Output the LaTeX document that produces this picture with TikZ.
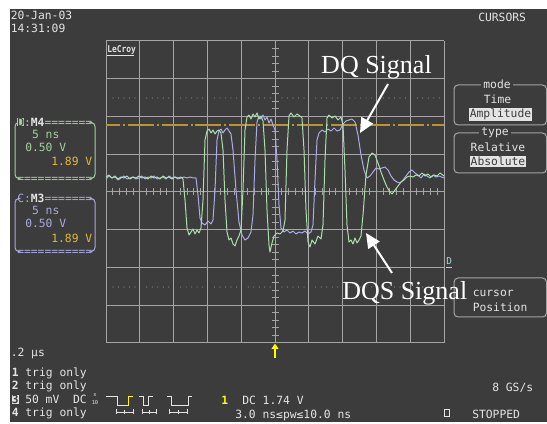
\documentclass[tikz,border=0pt]{standalone}
\usepackage{fontspec}
\usepackage{graphicx}
\usetikzlibrary{arrows.meta}
\newfontfamily\scopefont{DejaVu Sans Mono}
\newfontfamily\notefont{Liberation Serif}
\definecolor{scopebg}{RGB}{60,60,60}
\definecolor{gridgray}{RGB}{165,165,165}
\definecolor{dotgray}{RGB}{140,140,140}
\definecolor{dqsgreen}{RGB}{172,222,172}
\definecolor{dqpurple}{RGB}{172,172,228}
\definecolor{boxgreen}{RGB}{160,210,160}
\definecolor{boxpurple}{RGB}{170,170,220}
\definecolor{cursorgold}{RGB}{182,150,52}
\definecolor{valgold}{RGB}{225,185,60}
\definecolor{scopetext}{RGB}{228,228,228}
\definecolor{markcyan}{RGB}{160,220,220}
\definecolor{trigyellow}{RGB}{255,250,0}
\tikzset{
  scopetxt/.style={inner sep=0pt, font=\scopefont\fontsize{8.5pt}{10pt}\selectfont, text=scopetext},
  gridline/.style={draw=gridgray, line width=0.75pt},
  trace/.style={line width=0.75pt, line join=round},
  callout/.style={draw=white, line width=1.5pt, -{Triangle[length=11pt,width=10pt]}},
  panelbox/.style={draw=gridgray, rounded corners=3pt, line width=0.75pt},
  signaltxt/.style={inner sep=0pt, text=white, font=\notefont\fontsize{19.5pt}{22pt}\selectfont},
}
\begin{document}
\begin{tikzpicture}[x=0.75pt,y=0.75pt,yscale=-1,xscale=1]
\useasboundingbox (0,0) rectangle (547,424);
%Shape: Rectangle
\fill[white] (0,0) rectangle (547,424);
\fill[scopebg] (10,9) rectangle (547,422);

%Grid
\foreach \i in {0,...,10} \draw[gridline] ({106+33.8*\i},41) -- ({106+33.8*\i},343);
\foreach \j in {0,...,8} \draw[gridline] (106,{41+37.75*\j}) -- (444,{41+37.75*\j});
\foreach \k in {1,...,49} \draw[gridline] ({106+6.76*\k},188.5) -- ({106+6.76*\k},195.5);
\foreach \k in {1,...,39} \draw[gridline] (271.5,{41+7.55*\k}) -- (278.5,{41+7.55*\k});
\foreach \i in {0,...,9} \foreach \d in {7,12.5,18,23.5,29} {
  \fill[dotgray] ({106+33.8*\i+\d},98) circle (0.6);
  \fill[dotgray] ({106+33.8*\i+\d},287) circle (0.6);
}
%Straight Lines: cursor
\draw[cursorgold, line width=1.1pt, dash pattern=on 19.5pt off 2.25pt on 1.5pt off 2.1pt, dash phase=9pt] (106,125) -- (444,125);

%Trace: DQ
\draw[trace, dqpurple] plot coordinates {(106,179) (109,176) (112,178) (115,177) (118,180) (121,178) (124,176) (127,179) (130,178) (133,177) (136,179) (139,178) (142,176) (145,179) (148,177) (151,178) (154,176) (157,179) (160,178) (163,177) (166,179) (169,176) (172,178) (175,177) (178,179) (181,178) (184,177) (187,178) (190,177) (193,178) (196,178) (198,195) (200,218) (202,223) (205,225) (208,221) (211,224) (213,220) (215,190) (217,140) (219,131) (221,129) (223,133) (225,130) (227,128) (229,131) (231,134) (233,150) (236,190) (239,222) (242,235) (245,240) (248,238) (251,232) (253,215) (255,160) (257,122) (259,116) (261,119) (263,115) (265,120) (267,117) (269,123) (271,119) (273,125) (275,130) (277,160) (279,205) (281,228) (284,232) (287,230) (290,233) (293,231) (296,234) (299,232) (302,233) (305,231) (308,234) (311,232) (313,225) (315,180) (317,140) (319,133) (322,130) (325,132) (328,129) (331,131) (334,128) (337,131) (340,130) (343,124) (346,121) (349,120) (352,119) (355,122) (358,135) (361,155) (364,170) (367,178) (370,176) (373,172) (376,168) (379,169) (382,168) (385,167) (388,170) (391,176) (394,180) (397,182) (400,183) (403,180) (406,176) (409,172) (412,170) (415,173) (418,175) (421,178) (424,174) (427,176) (430,178) (433,175) (436,177) (439,176) (444,178)};
%Trace: DQS
\draw[trace, dqsgreen] plot coordinates {(106,177) (109,175) (112,178) (115,176) (118,179) (121,177) (124,178) (127,176) (130,179) (133,177) (136,178) (139,176) (142,178) (145,177) (148,179) (151,176) (154,178) (157,177) (160,179) (163,176) (166,178) (169,177) (172,179) (175,177) (178,178) (181,177) (183,179) (185,200) (187,228) (189,235) (191,232) (193,229) (195,234) (197,230) (199,233) (201,228) (203,200) (205,140) (207,131) (209,129) (211,133) (213,130) (215,134) (217,131) (219,130) (221,133) (223,150) (225,200) (227,232) (229,240) (231,238) (233,244) (235,246) (237,240) (239,236) (241,230) (243,190) (245,130) (247,117) (249,115) (251,119) (253,114) (255,117) (257,113) (259,119) (261,116) (263,121) (265,150) (267,210) (269,245) (270,252) (272,243) (274,236) (277,233) (280,234) (283,231) (285,220) (287,150) (289,116) (291,113) (294,117) (297,114) (300,116) (302,118) (304,150) (306,210) (308,242) (310,247) (312,240) (315,244) (318,236) (321,239) (323,225) (325,160) (327,118) (329,115) (332,118) (335,116) (338,120) (341,117) (343,125) (345,170) (347,225) (349,242) (351,240) (353,244) (355,238) (357,243) (359,240) (361,236) (363,215) (366,175) (369,157) (372,153) (375,155) (378,163) (381,172) (384,180) (387,187) (390,192) (392,194) (395,190) (398,186) (401,182) (404,180) (407,177) (410,176) (413,177) (416,175) (419,176) (422,173) (425,176) (428,174) (431,177) (434,175) (437,176) (440,173) (444,176)};

% Text Node
\node[scopetxt, anchor=base west] (date) at (10.5,20) {20-Jan-03};
\node[scopetxt, anchor=base west] (clock) at (10.5,33) {14:31:09};
\node[scopetxt, anchor=base west, font=\scopefont\bfseries\fontsize{7pt}{8pt}\selectfont] (logo) at (107,52.5) {\scalebox{0.85}[1]{LeCroy}};
\draw[scopetext, line width=0.75pt] (107,55.5) -- (134,55.5);

%M4 box
\draw[boxgreen, rounded corners=3pt, line width=0.75pt] (18,122.5) -- (15,122.5) -- (15,178.5) -- (18,178.5);
\draw[boxgreen, rounded corners=3pt, line width=0.75pt] (92,122.5) -- (95,122.5) -- (95,178.5) -- (92,178.5);
\node[scopetxt, anchor=base west, fill=boxgreen, text=scopebg] (mfourtag) at (17,126.5) {D};
\node[scopetxt, anchor=base west, text=boxgreen] (mfourhead) at (23.8,126.5) {:\textcolor{scopetext}{\bfseries M4}=======};
\node[scopetxt, anchor=base west, text=boxgreen] (mfourtime) at (31.8,138.5) {5 ns};
\node[scopetxt, anchor=base west, text=boxgreen] (mfourvolt) at (25,152) {0.50 V};
\node[scopetxt, anchor=base east, text=valgold] (mfourpos) at (92.5,166) {1.89 V};
\node[scopetxt, anchor=base west, text=boxgreen] (mfourfoot) at (17,182.5) {===========};

%M3 box
\draw[boxpurple, rounded corners=3pt, line width=0.75pt] (18,198.5) -- (15,198.5) -- (15,251.5) -- (18,251.5);
\draw[boxpurple, rounded corners=3pt, line width=0.75pt] (92,198.5) -- (95,198.5) -- (95,251.5) -- (92,251.5);
\node[scopetxt, anchor=base west, text=boxpurple] (mthreehead) at (17,202.5) {C:\textcolor{scopetext}{\bfseries M3}=======};
\node[scopetxt, anchor=base west, text=boxpurple] (mthreetime) at (31.8,215) {5 ns};
\node[scopetxt, anchor=base west, text=boxpurple] (mthreevolt) at (25,228) {0.50 V};
\node[scopetxt, anchor=base east, text=valgold] (mthreepos) at (92.5,243) {1.89 V};
\node[scopetxt, anchor=base west, text=boxpurple] (mthreefoot) at (17,255.5) {===========};

%Right panel
\node[scopetxt, anchor=base west] (cursors) at (478,22) {CURSORS};
\draw[panelbox] (454,85) rectangle (546.5,125);
\node[scopetxt, anchor=base, fill=scopebg, inner xsep=1.5pt] (modelabel) at (497,88.5) {mode};
\node[scopetxt, anchor=base] (modetime) at (497.5,104) {Time};
\node[scopetxt, anchor=base, fill=scopetext, text=scopebg, inner sep=0.8pt] (modeamp) at (500.5,118) {Amplitude};
\draw[panelbox] (454,133) rectangle (546.5,173);
\node[scopetxt, anchor=base, fill=scopebg, inner xsep=1.5pt] (typelabel) at (495,135.5) {type};
\node[scopetxt, anchor=base] (typerel) at (498,152) {Relative};
\node[scopetxt, anchor=base, fill=scopetext, text=scopebg, inner sep=0.8pt] (typeabs) at (498,166) {Absolute};
\draw[panelbox] (454,278) rectangle (546.5,317);
\node[scopetxt, anchor=base west] (curs) at (472.5,297) {cursor};
\node[scopetxt, anchor=base west] (curpos) at (472.5,312) {Position};

%Level marker
\node[scopetxt, anchor=base west, text=markcyan, font=\scopefont\fontsize{7pt}{8pt}\selectfont] (levelmark) at (446,265) {D};
\draw[markcyan, line width=0.75pt] (446,268) -- (452,268);

%Trigger arrow
\coordinate (trigfoot) at (275,358);
\coordinate (trighead) at (275,343.5);
\draw[trigyellow, line width=1.5pt, -{Triangle[length=4pt,width=5pt]}] (trigfoot) -- (trighead);

%Bottom status
\node[scopetxt, anchor=base west] (timebase) at (10.5,357) {.2 μs};
\node[scopetxt, anchor=base west] (chone) at (11.5,376.5) {{\bfseries 1} trig only};
\node[scopetxt, anchor=base west] (chtwo) at (11.5,389.5) {{\bfseries 2} trig only};
\node[scopetxt, anchor=base west, fill=scopetext, text=scopebg, font=\scopefont\bfseries\fontsize{8.5pt}{10pt}\selectfont] (chthreetag) at (11.5,403.5) {3};
\node[scopetxt, anchor=base west] (chthree) at (25,403.5) {50 mV~~DC};
\node[scopetxt, anchor=base west, font=\scopefont\fontsize{4pt}{3.5pt}\selectfont] (coupling) at (91.5,404) {\shortstack{x\\10}};
\node[scopetxt, anchor=base west] (chfour) at (11.5,416.5) {{\bfseries 4} trig only};

%Pulse symbols
\draw[scopetext, line width=0.75pt] (106,397) -- (117,397) -- (117,406) -- (128,406);
\draw[trigyellow, line width=0.75pt] (128,406) -- (128,397) -- (133,397);
\draw[scopetext, line width=0.75pt] (139,397) -- (143,397) -- (143,406) -- (148,406) -- (148,397) -- (153,397);
\draw[scopetext, line width=0.75pt] (167,397) -- (171,397) -- (171,406) -- (188,406) -- (188,397) -- (192,397);
\foreach \a/\b in {116/133, 142/156, 169/187} {
  \draw[scopetext, line width=0.6pt] (\a,412) -- (\b,412);
  \draw[scopetext, line width=0.6pt] (\a,409.5) -- (\a,414.5);
  \draw[scopetext, line width=0.6pt] (\b,409.5) -- (\b,414.5);
  \draw[scopetext, line width=0.6pt] ({(\a+\b)/2},410) -- ({(\a+\b)/2},414);
}
\node[scopetxt, anchor=base west, text=trigyellow, font=\scopefont\bfseries\fontsize{8.5pt}{10pt}\selectfont] (trigsrc) at (221,404) {1};
\node[scopetxt, anchor=base west] (triglevel) at (242,404) {DC 1.74 V};
\node[scopetxt, anchor=base west] (trigwidth) at (235,418) {3.0 ns≤pw≤10.0 ns};
\node[scopetxt, anchor=base west] (rate) at (492,392) {8 GS/s};
\draw[scopetext, line width=0.75pt] (444,409.5) rectangle (449.5,417);
\node[scopetxt, anchor=base west] (runstate) at (472,419) {STOPPED};

%Callouts
\node[signaltxt, anchor=base east] (dqlabel) at (432,74) {DQ Signal};
\node[signaltxt, anchor=base east] (dqslabel) at (467.5,299.5) {DQS Signal};
\coordinate (dqtail) at (388,84);
\coordinate (dqtip) at (360,133);
\coordinate (dqstail) at (392,273);
\coordinate (dqstip) at (366,233);
\draw[callout] (dqtail) -- (dqtip);
\draw[callout] (dqstail) -- (dqstip);
\end{tikzpicture}
\end{document}
